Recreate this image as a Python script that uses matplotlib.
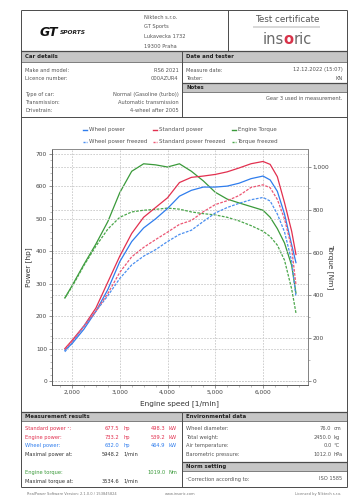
import matplotlib
matplotlib.use("Agg")
import matplotlib.pyplot as plt
from matplotlib.patches import Rectangle
from matplotlib.ticker import MultipleLocator, FuncFormatter

# engine speed grid the curves were read on
rpm = [1850, 2000, 2250, 2500, 2750, 3000, 3250, 3500, 3750, 4000, 4250, 4500,
       4750, 5000, 5250, 5500, 5750, 6000, 6150, 6300, 6450, 6600, 6690]

# power [hp]
wheel_power = [95, 115, 160, 215, 282, 368, 430, 472, 500, 532, 570, 588,
               598, 598, 601, 610, 624, 632, 620, 585, 515, 420, 365]
standard_power = [100, 125, 170, 225, 305, 385, 455, 505, 535, 565, 612, 628,
                  632, 637, 645, 657, 670, 677, 668, 630, 550, 462, 390]
wheel_power_frz = [90, 118, 170, 215, 263, 316, 358, 385, 405, 430, 452, 465,
                   492, 518, 535, 548, 559, 566, 555, 515, 460, 370, 260]
standard_power_frz = [98, 122, 168, 215, 270, 335, 383, 412, 436, 459, 483, 495,
                      522, 544, 556, 572, 597, 605, 596, 560, 500, 410, 297]

# torque [Nm]
engine_torque = [388, 445, 545, 640, 745, 880, 980, 1015, 1010, 1000, 1015, 980,
                 935, 882, 850, 832, 815, 798, 765, 712, 645, 540, 411]
torque_frz = [388, 440, 540, 630, 710, 765, 790, 798, 802, 808, 803, 790,
              782, 776, 765, 748, 726, 700, 675, 635, 565, 430, 318]

BLUE = "#2f7ded"
RED = "#e2304f"
GREEN = "#3a9a3a"
BLUE2 = "#4b8ff0"
RED2 = "#ec5774"
GREEN2 = "#4aa64a"
LINE = "#4a4a4a"
BAR = "#c6c6c6"
TXT = "#555555"

fig = plt.figure(figsize=(3.6, 5.04), dpi=100)

# page layer in pixel coordinates
bg = fig.add_axes([0, 0, 1, 1])
bg.set_xlim(0, 360)
bg.set_ylim(504, 0)
bg.axis("off")

L, R, M = 20.7, 346.5, 182

def hline(y, x0=L, x1=R, lw=0.7):
    bg.plot([x0, x1], [y, y], color=LINE, lw=lw, solid_capstyle="butt")

def vline(x, y0, y1, lw=0.7):
    bg.plot([x, x], [y0, y1], color=LINE, lw=lw, solid_capstyle="butt")

def bar(x0, x1, y0, y1, title):
    bg.add_patch(Rectangle((x0, y0), x1 - x0, y1 - y0, facecolor=BAR, edgecolor="none"))
    hline(y0, x0, x1, lw=0.9)
    hline(y1, x0, x1, lw=0.5)
    bg.text(x0 + 4.5, (y0 + y1) / 2 + 0.3, title, fontsize=3.9, fontweight="bold",
            color="#222222", va="center", ha="left")

def row(x0, x1, y, label, value, color=TXT):
    bg.text(x0, y, label, fontsize=3.7, color=color, va="center", ha="left")
    bg.text(x1, y, value, fontsize=3.7, color=color, va="center", ha="right")

# outer frame
hline(10.3)
hline(486.7)
vline(L, 10.3, 486.7)
vline(R, 10.3, 486.7)

# header
hline(51)
vline(227.7, 10.3, 51)
bg.text(40, 32, "GT", fontsize=9, fontweight="bold", style="italic", color="#111111",
        va="center", ha="left")
bg.text(60, 32.8, "SPORTS", fontsize=4.2, fontweight="bold", style="italic",
        color="#222222", va="center", ha="left")
for i, s in enumerate(["Niktech s.r.o.", "GT Sports", "Lukavecka 1732", "19300 Praha"]):
    bg.text(144.3, 17.3 + i * 9.6, s, fontsize=3.7, color=TXT, va="center", ha="left")
bg.text(287, 20, "Test certificate", fontsize=6.3, color="#555555", va="center", ha="center")
hline(27, 253, 320, lw=0.3)
bg.text(283.6, 39, "ins", fontsize=10.5, color="#6a6a6a", va="center", ha="right")
bg.text(288.2, 39, "o", fontsize=10.5, color="#d8334a", va="center", ha="center",
        fontweight="bold")
bg.text(293.2, 39, "ric", fontsize=10.5, color="#6a6a6a", va="center", ha="left")

# car details / date and tester
bar(L, M, 51, 62.3, "Car details")
bar(M, R, 51, 62.3, "Date and tester")
vline(M, 51, 117.3)
row(25, 178.3, 70, "Make and model:", "RS6 2021")
row(25, 178.3, 78.3, "Licence number:", "000AZUR4")
row(25, 178.3, 94.3, "Type of car:", "Normal (Gasoline (turbo))")
row(25, 178.3, 102.3, "Transmission:", "Automatic transmission")
row(25, 178.3, 110.3, "Drivetrain:", "4-wheel after 2005")
row(186, 342.5, 70, "Measure date:", "12.12.2022 (15:07)")
row(186, 342.5, 78.3, "Tester:", "KN")
bar(M, R, 83.3, 91.7, "Notes")
row(186, 342.5, 98.3, "", "Gear 3 used in measurement.")
hline(117.3)

# legend drawn on the page layer
leg = [(83, 129.7, BLUE, "-", "Wheel power"),
       (153, 129.7, RED, "-", "Standard power"),
       (231.5, 129.7, GREEN, "-", "Engine Torque"),
       (83, 142, BLUE2, (0, (1.5, 0.8)), "Wheel power freezed"),
       (153, 142, RED2, (0, (1.5, 0.8)), "Standard power freezed"),
       (231.5, 142, GREEN2, (0, (1.5, 0.8)), "Torque freezed")]
for x, y, c, ls, s in leg:
    bg.plot([x, x + 4], [y, y], color=c, lw=1.0, ls=ls)
    bg.text(x + 6, y, s, fontsize=4.0, color=TXT, va="center", ha="left")

# measurement results / environmental data
bar(L, M, 411.7, 420.7, "Measurement results")
bar(M, R, 411.7, 420.7, "Environmental data")
vline(M, 411.7, 486.7)
res = [(428.3, "Standard power \u00b9:", "677.5", "hp", "498.3", "kW", RED),
       (437.3, "Engine power:", "733.2", "hp", "539.2", "kW", RED),
       (445.7, "Wheel power:", "632.0", "hp", "464.9", "kW", BLUE),
       (454.3, "Maximal power at:", "5948.2", "1/min", "", "", "#333333"),
       (472.3, "Engine torque:", "", "", "1019.0", "Nm", GREEN),
       (481.3, "Maximal torque at:", "3534.6", "1/min", "", "", "#333333")]
for y, lab, v1, u1, v2, u2, c in res:
    bg.text(25, y, lab, fontsize=3.7, color=c, va="center", ha="left")
    bg.text(119, y, v1, fontsize=3.7, color=c, va="center", ha="right")
    bg.text(123.3, y, u1, fontsize=3.7, color=c, va="center", ha="left")
    bg.text(165.7, y, v2, fontsize=3.7, color=c, va="center", ha="right")
    bg.text(168.3, y, u2, fontsize=3.7, color=c, va="center", ha="left")
env = [(428.3, "Wheel diameter:", "76.0", "cm"),
       (437.3, "Total weight:", "2450.0", "kg"),
       (445.7, "Air temperature:", "0.0", "\u00b0C"),
       (454.3, "Barometric pressure:", "1012.0", "hPa")]
for y, lab, v, u in env:
    bg.text(186, y, lab, fontsize=3.7, color=TXT, va="center", ha="left")
    bg.text(331.5, y, v, fontsize=3.7, color=TXT, va="center", ha="right")
    bg.text(333.5, y, u, fontsize=3.7, color=TXT, va="center", ha="left")
bar(M, R, 462.3, 470.7, "Norm setting")
row(186, 342.5, 479, "\u00b9Correction according to:", "ISO 1585")

# footer
bg.text(26.7, 494.3, "RealPower Software Version: 2.1.0.0 / 153845824", fontsize=2.6,
        color="#777777", va="center", ha="left")
bg.text(180, 494.3, "www.insoric.com", fontsize=2.6, color="#777777", va="center", ha="center")
bg.text(341, 494.3, "Licensed by Niktech s.r.o.", fontsize=2.6, color="#777777",
        va="center", ha="right")

# chart
ax = fig.add_axes([52.3 / 360, 1 - 384.7 / 504, 255.4 / 360, 235.4 / 504])
ax2 = ax.twinx()
ax.set_zorder(ax2.get_zorder() + 1)
ax.patch.set_visible(False)

ax.set_xlim(1587, 6936)
ax.set_ylim(-11.4, 714.5)
ax2.set_ylim(-17.3, 1082.7)

dash = (0, (2.2, 1.1))
ax.plot(rpm, wheel_power, color=BLUE, lw=0.9)
ax.plot(rpm, standard_power, color=RED, lw=0.9)
ax.plot(rpm, wheel_power_frz, color=BLUE2, lw=0.9, ls=dash)
ax.plot(rpm, standard_power_frz, color=RED2, lw=0.9, ls=dash)
ax2.plot(rpm, engine_torque, color=GREEN, lw=0.9)
ax2.plot(rpm, torque_frz, color=GREEN2, lw=0.9, ls=dash)

fmt = FuncFormatter(lambda v, p: "{:,.0f}".format(v))
ax.xaxis.set_major_locator(MultipleLocator(1000))
ax.xaxis.set_minor_locator(MultipleLocator(250))
ax.yaxis.set_major_locator(MultipleLocator(100))
ax.yaxis.set_minor_locator(MultipleLocator(20))
ax2.yaxis.set_major_locator(MultipleLocator(200))
ax2.yaxis.set_minor_locator(MultipleLocator(100))
for a in (ax.xaxis, ax.yaxis, ax2.yaxis):
    a.set_major_formatter(fmt)

gkw = dict(color="#c8c8c8", lw=0.6, ls=(0, (2, 1.5)))
ax.grid(True, which="major", **gkw)
ax2.grid(True, which="major", axis="y", **gkw)

for a in (ax, ax2):
    a.tick_params(which="major", length=2.2, width=0.5, color="#666666",
                  labelsize=4.2, labelcolor="#444444", pad=1.5)
    a.tick_params(which="minor", length=1.2, width=0.4, color="#888888")
    for s in a.spines.values():
        s.set_color("#8a8a8a")
        s.set_linewidth(0.6)
ax.spines["left"].set_color("#555555")
ax.spines["bottom"].set_color("#555555")
ax2.spines["right"].set_color("#555555")

ax.set_xlabel("Engine speed [1/min]", fontsize=5.3, color="#333333")
ax.set_ylabel("Power [hp]", fontsize=5.3, color="#333333")
ax2.set_ylabel("Torque [Nm]", fontsize=5.3, color="#333333", rotation=270)
ax.xaxis.set_label_coords(0.5, -0.065)
ax.yaxis.set_label_coords(-0.079, 0.5)
ax2.yaxis.set_label_coords(1.103, 0.5)

fig.savefig("out.png", dpi=100)
